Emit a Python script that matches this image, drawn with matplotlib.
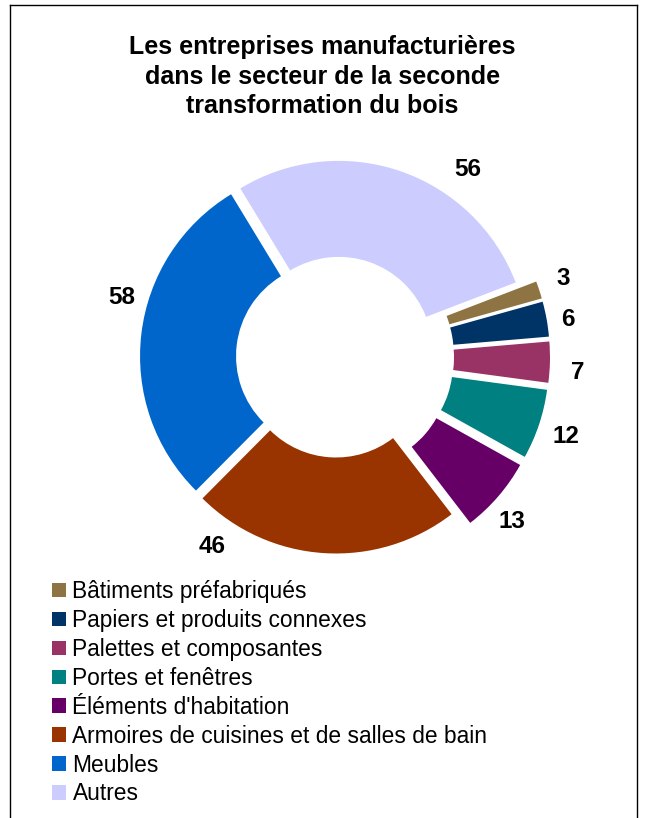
import matplotlib
matplotlib.use("Agg")
import matplotlib.pyplot as plt
import numpy as np
from matplotlib.lines import Line2D

plt.rcParams["font.family"] = ["Liberation Sans", "DejaVu Sans"]

TITLE = "Les entreprises manufacturières\ndans le secteur de la seconde\ntransformation du bois"
CATEGORIES = [
    "Bâtiments préfabriqués",
    "Papiers et produits connexes",
    "Palettes et composantes",
    "Portes et fenêtres",
    "Éléments d'habitation",
    "Armoires de cuisines et de salles de bain",
    "Meubles",
    "Autres",
]
VALUES = [3, 6, 7, 12, 13, 46, 58, 56]
COLORS = ["#8E7443", "#003366", "#993366", "#008080",
          "#660066", "#993300", "#0066CC", "#CCCCFF"]

# layout (pixels, figure is 645 x 818)
CENTER = (336.5, 818 - 357)
RADIUS = 189.5
RING = 96
EXPLODE = [24, 24, 24, 24, 24, 7, 7, 7]
# value labels: polar angle (deg) and distance from the centre
LABEL_ANGLE = [19.2, 9.1, -3.6, -19.2, -43.2, -123.2, 164.4, 54.9]
LABEL_DIST = [240, 234, 242, 243, 241, 227, 223, 229]


def main():
    fig = plt.figure(figsize=(6.45, 8.18), dpi=100)
    ax = fig.add_axes([0, 0, 1, 1])
    wedges, _ = ax.pie(VALUES, colors=COLORS, startangle=21, counterclock=False,
                       center=CENTER, radius=RADIUS, explode=EXPLODE,
                       wedgeprops=dict(width=RING, linewidth=0), frame=True)
    ax.set_xlim(0, 645)
    ax.set_ylim(0, 818)
    ax.set_aspect("auto")
    ax.axis("off")

    for val, ang, dist in zip(VALUES, LABEL_ANGLE, LABEL_DIST):
        a = np.radians(ang)
        ax.text(CENTER[0] + dist * np.cos(a), CENTER[1] + dist * np.sin(a), str(val),
                ha="center", va="center", fontsize=17.5, fontweight="bold")

    fig.text(0.5, 1 - 35 / 818, TITLE, ha="center", va="top", fontsize=18,
             fontweight="bold", linespacing=1.3)

    fig.legend(wedges, CATEGORIES, loc="upper left", bbox_to_anchor=(52 / 645, 1 - 580 / 818),
               frameon=False, fontsize=16.4, handlelength=0.6, handleheight=0.6,
               handletextpad=0.3, labelspacing=0.26, borderpad=0, borderaxespad=0)

    # frame around the chart (bottom edge is cut off)
    fig.add_artist(Line2D([10 / 645, 10 / 645], [0, 1 - 5 / 818], color="black", lw=1))
    fig.add_artist(Line2D([637 / 645, 637 / 645], [0, 1 - 5 / 818], color="black", lw=1))
    fig.add_artist(Line2D([10 / 645, 637 / 645], [1 - 5 / 818, 1 - 5 / 818], color="black", lw=1))

    fig.savefig("out.png", dpi=100)


if __name__ == "__main__":
    main()
